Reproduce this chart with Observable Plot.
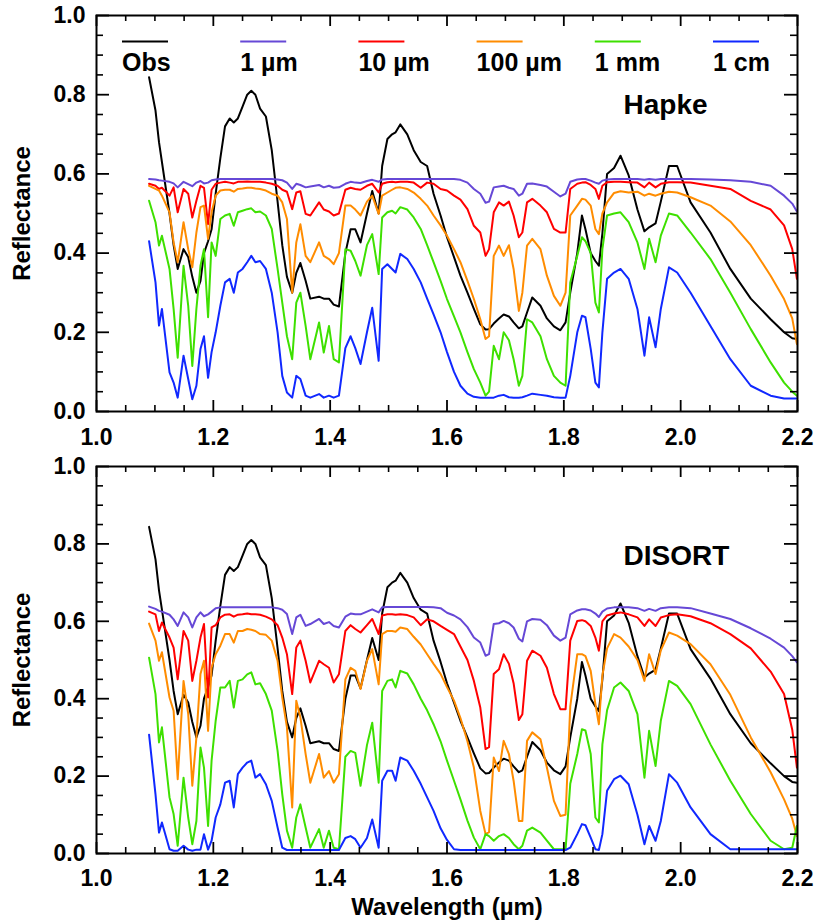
<!DOCTYPE html>
<html><head><meta charset="utf-8">
<script src="https://cdn.jsdelivr.net/npm/d3@7"></script>
<script src="https://cdn.jsdelivr.net/npm/@observablehq/plot@0.6"></script>
<style>
body{margin:0;background:#fff;}
#chart{width:817px;height:921px;}
#chart svg{display:block;}
</style></head><body><div id="chart"></div>
<script>
// ---------- data ----------
const wavelength = [
1.090,1.101,1.107,1.112,1.125,1.132,1.139,1.149,1.157,1.164,
1.171,1.178,1.184,1.191,1.197,1.204,1.212,1.220,1.228,1.235,
1.242,1.250,1.258,1.265,1.272,1.280,1.290,1.300,1.310,1.318,
1.326,1.335,1.342,1.349,1.358,1.366,1.381,1.389,1.398,1.406,
1.415,1.426,
1.435,1.443,1.452,1.463,1.472,1.483,1.489,1.498,1.506,1.512,
1.520,1.532,1.543,1.555,1.566,1.577,1.589,1.600,1.612,1.623,
1.635,1.646,1.657,1.666,1.672,1.680,1.689,1.697,1.706,1.714,
1.723,1.729,1.737,1.746,1.760,1.771,1.783,1.794,1.803,1.811,
1.823,1.831,1.837,1.846,1.854,1.860,1.866,1.874,1.886,1.897,
1.911,1.926,1.938,1.946,1.957,1.966,1.980,1.994,2.017,2.051,
2.085,2.120,2.154,2.177,2.191,2.199];

const obs = [
0.844,0.76,0.68,0.63,0.50,0.42,0.36,0.41,0.39,0.34,
0.30,0.33,0.40,0.43,0.46,0.55,0.64,0.72,0.74,0.73,
0.74,0.77,0.80,0.81,0.80,0.765,0.745,0.66,0.53,0.42,
0.34,0.30,0.35,0.375,0.33,0.285,0.29,0.285,0.285,0.27,
0.265,0.40,
0.46,0.46,0.427,0.50,0.557,0.50,0.62,0.688,0.70,0.705,
0.725,0.70,0.66,0.63,0.62,0.55,0.495,0.44,0.39,0.343,
0.30,0.259,0.22,0.207,0.208,0.222,0.235,0.245,0.24,0.225,
0.21,0.215,0.25,0.288,0.267,0.235,0.215,0.205,0.225,0.30,
0.40,0.495,0.46,0.40,0.38,0.368,0.45,0.60,0.615,0.646,
0.596,0.51,0.455,0.465,0.475,0.53,0.62,0.62,0.528,0.452,
0.36,0.285,0.233,0.20,0.185,0.183];

// Hapke models
const hapke1um = [
0.587,0.586,0.584,0.583,0.580,0.576,0.566,0.580,0.574,0.569,
0.578,0.582,0.576,0.578,0.584,0.586,0.587,0.587,0.587,0.587,
0.587,0.587,0.587,0.587,0.587,0.587,0.587,0.587,0.586,0.584,
0.578,0.562,0.575,0.572,0.566,0.568,0.572,0.566,0.570,0.565,
0.566,0.575,
0.580,0.578,0.577,0.582,0.585,0.580,0.586,0.587,0.587,0.587,
0.587,0.587,0.587,0.587,0.587,0.587,0.587,0.587,0.587,0.585,
0.578,0.562,0.550,0.527,0.530,0.566,0.568,0.570,0.565,0.562,
0.545,0.550,0.575,0.576,0.572,0.568,0.555,0.543,0.550,0.580,
0.586,0.587,0.587,0.583,0.578,0.575,0.583,0.586,0.587,0.587,
0.587,0.587,0.585,0.587,0.585,0.587,0.587,0.587,0.587,0.586,
0.584,0.580,0.570,0.545,0.525,0.505];
const hapke10um = [
0.575,0.570,0.562,0.565,0.545,0.566,0.503,0.562,0.550,0.490,
0.532,0.570,0.565,0.473,0.560,0.575,0.578,0.580,0.578,0.576,
0.580,0.580,0.581,0.580,0.580,0.580,0.578,0.575,0.570,0.560,
0.555,0.511,0.553,0.556,0.499,0.495,0.528,0.510,0.505,0.495,
0.500,0.560,
0.565,0.562,0.560,0.570,0.575,0.553,0.575,0.579,0.580,0.579,
0.580,0.580,0.578,0.565,0.578,0.575,0.562,0.558,0.545,0.535,
0.511,0.469,0.452,0.393,0.410,0.503,0.528,0.520,0.530,0.495,
0.440,0.452,0.528,0.537,0.520,0.503,0.461,0.452,0.452,0.562,
0.575,0.578,0.579,0.572,0.562,0.537,0.570,0.579,0.580,0.580,
0.579,0.578,0.566,0.578,0.566,0.575,0.579,0.579,0.578,0.570,
0.562,0.532,0.510,0.470,0.410,0.335];
const hapke100um = [
0.570,0.562,0.558,0.545,0.503,0.427,0.377,0.478,0.410,0.364,
0.452,0.516,0.520,0.436,0.503,0.545,0.558,0.560,0.560,0.555,
0.562,0.563,0.565,0.565,0.563,0.562,0.558,0.550,0.545,0.528,
0.486,0.300,0.427,0.473,0.393,0.377,0.427,0.393,0.385,0.372,
0.400,0.520,
0.520,0.510,0.495,0.530,0.545,0.499,0.545,0.553,0.560,0.565,
0.566,0.562,0.553,0.537,0.520,0.495,0.470,0.444,0.410,0.377,
0.330,0.284,0.233,0.183,0.190,0.393,0.419,0.393,0.420,0.360,
0.254,0.300,0.419,0.436,0.410,0.343,0.292,0.267,0.300,0.495,
0.520,0.537,0.535,0.520,0.461,0.448,0.500,0.528,0.552,0.556,
0.553,0.555,0.545,0.550,0.545,0.550,0.555,0.553,0.541,0.520,
0.480,0.420,0.343,0.284,0.235,0.170];
const hapke1mm = [
0.532,0.478,0.419,0.444,0.360,0.259,0.136,0.368,0.267,0.115,
0.259,0.368,0.410,0.238,0.427,0.393,0.486,0.495,0.499,0.469,
0.503,0.507,0.511,0.513,0.503,0.505,0.495,0.461,0.360,0.275,
0.190,0.132,0.275,0.300,0.216,0.132,0.225,0.149,0.216,0.132,
0.124,0.410,
0.406,0.380,0.343,0.420,0.448,0.347,0.490,0.503,0.507,0.500,
0.516,0.510,0.490,0.461,0.420,0.377,0.330,0.284,0.240,0.200,
0.150,0.107,0.073,0.040,0.050,0.166,0.132,0.200,0.180,0.132,
0.065,0.090,0.233,0.225,0.190,0.132,0.090,0.073,0.065,0.326,
0.393,0.440,0.430,0.400,0.275,0.250,0.410,0.495,0.500,0.503,
0.478,0.427,0.360,0.436,0.377,0.444,0.500,0.495,0.452,0.385,
0.300,0.208,0.124,0.073,0.050,0.040];
const hapke1cm = [
0.430,0.326,0.217,0.259,0.099,0.073,0.035,0.141,0.082,0.031,
0.065,0.158,0.190,0.085,0.150,0.200,0.267,0.326,0.335,0.300,
0.351,0.360,0.377,0.393,0.377,0.380,0.360,0.300,0.200,0.090,
0.048,0.035,0.090,0.082,0.040,0.035,0.044,0.035,0.040,0.035,
0.040,0.160,
0.190,0.160,0.120,0.200,0.262,0.128,0.360,0.372,0.360,0.351,
0.398,0.385,0.360,0.326,0.285,0.245,0.200,0.150,0.100,0.065,
0.045,0.037,0.035,0.035,0.035,0.035,0.040,0.042,0.036,0.035,
0.035,0.036,0.040,0.045,0.042,0.040,0.036,0.035,0.035,0.090,
0.200,0.242,0.238,0.158,0.073,0.061,0.200,0.335,0.351,0.360,
0.335,0.259,0.141,0.238,0.162,0.259,0.364,0.351,0.300,0.216,
0.132,0.065,0.040,0.033,0.033,0.033];

// DISORT models
const disort1um = [
0.638,0.632,0.627,0.625,0.617,0.605,0.588,0.623,0.610,0.584,
0.610,0.623,0.613,0.618,0.625,0.634,0.636,0.636,0.636,0.636,
0.636,0.636,0.636,0.636,0.636,0.636,0.636,0.636,0.634,0.630,
0.619,0.567,0.610,0.617,0.588,0.593,0.606,0.593,0.598,0.588,
0.584,0.612,
0.620,0.618,0.618,0.625,0.631,0.623,0.636,0.637,0.637,0.637,
0.637,0.637,0.637,0.637,0.637,0.636,0.634,0.622,0.615,0.605,
0.585,0.558,0.545,0.511,0.515,0.593,0.595,0.601,0.595,0.584,
0.555,0.548,0.600,0.606,0.604,0.590,0.563,0.550,0.558,0.618,
0.628,0.631,0.631,0.628,0.620,0.611,0.625,0.633,0.636,0.636,
0.636,0.634,0.627,0.632,0.627,0.634,0.636,0.636,0.634,0.620,
0.606,0.582,0.555,0.532,0.510,0.494];
const disort10um = [
0.625,0.618,0.575,0.597,0.558,0.532,0.450,0.575,0.550,0.446,
0.498,0.558,0.593,0.403,0.584,0.590,0.610,0.617,0.618,0.612,
0.617,0.618,0.620,0.618,0.618,0.617,0.612,0.605,0.590,0.558,
0.515,0.412,0.532,0.550,0.498,0.442,0.498,0.489,0.480,0.442,
0.463,0.575,
0.590,0.580,0.571,0.590,0.606,0.567,0.615,0.618,0.618,0.617,
0.618,0.616,0.610,0.590,0.605,0.600,0.588,0.578,0.567,0.535,
0.500,0.446,0.377,0.270,0.275,0.464,0.476,0.515,0.490,0.440,
0.345,0.360,0.498,0.524,0.511,0.480,0.412,0.373,0.373,0.550,
0.601,0.603,0.600,0.588,0.558,0.524,0.600,0.615,0.620,0.623,
0.618,0.610,0.588,0.605,0.588,0.610,0.616,0.618,0.613,0.595,
0.567,0.530,0.470,0.412,0.320,0.222];
const disort100um = [
0.594,0.550,0.498,0.520,0.403,0.369,0.192,0.446,0.360,0.175,
0.300,0.464,0.498,0.317,0.480,0.515,0.537,0.567,0.567,0.545,
0.575,0.575,0.580,0.578,0.575,0.567,0.565,0.550,0.498,0.403,
0.326,0.119,0.395,0.352,0.257,0.183,0.257,0.196,0.213,0.183,
0.205,0.450,
0.480,0.472,0.425,0.498,0.528,0.437,0.567,0.575,0.575,0.573,
0.584,0.580,0.560,0.540,0.515,0.490,0.464,0.430,0.395,0.350,
0.290,0.222,0.110,0.050,0.055,0.248,0.213,0.291,0.257,0.188,
0.084,0.084,0.291,0.313,0.295,0.222,0.136,0.097,0.100,0.380,
0.515,0.515,0.510,0.472,0.386,0.334,0.460,0.530,0.567,0.558,
0.535,0.500,0.446,0.515,0.464,0.525,0.571,0.563,0.541,0.489,
0.410,0.300,0.210,0.140,0.090,0.045];
const disort1mm = [
0.506,0.412,0.287,0.326,0.145,0.102,0.020,0.196,0.093,0.024,
0.084,0.274,0.222,0.071,0.240,0.343,0.429,0.429,0.446,0.377,
0.446,0.450,0.463,0.468,0.437,0.440,0.412,0.369,0.265,0.153,
0.059,0.015,0.093,0.127,0.067,0.015,0.063,0.015,0.059,0.015,
0.011,0.250,
0.265,0.260,0.175,0.280,0.338,0.183,0.420,0.446,0.450,0.429,
0.472,0.465,0.437,0.400,0.370,0.334,0.290,0.240,0.188,0.140,
0.085,0.041,0.011,0.050,0.045,0.033,0.045,0.050,0.040,0.024,
0.011,0.020,0.059,0.067,0.054,0.033,0.011,0.011,0.011,0.180,
0.257,0.321,0.318,0.257,0.093,0.080,0.282,0.370,0.429,0.442,
0.420,0.360,0.196,0.317,0.226,0.343,0.446,0.433,0.386,0.282,
0.188,0.102,0.033,0.011,0.015,0.071];
const disort1cm = [
0.307,0.153,0.054,0.080,0.011,0.007,0.007,0.020,0.010,0.007,
0.010,0.010,0.050,0.010,0.033,0.093,0.127,0.183,0.188,0.119,
0.205,0.222,0.235,0.240,0.196,0.205,0.179,0.136,0.067,0.015,
0.009,0.009,0.009,0.009,0.009,0.009,0.009,0.009,0.009,0.009,
0.009,0.040,
0.045,0.037,0.015,0.040,0.088,0.015,0.188,0.214,0.214,0.188,
0.248,0.240,0.214,0.180,0.145,0.110,0.065,0.035,0.011,0.009,
0.009,0.009,0.009,0.009,0.009,0.009,0.009,0.009,0.009,0.009,
0.009,0.009,0.009,0.009,0.009,0.009,0.009,0.009,0.009,0.015,
0.050,0.076,0.073,0.041,0.011,0.009,0.050,0.162,0.192,0.201,
0.179,0.100,0.024,0.071,0.033,0.084,0.205,0.183,0.119,0.050,
0.011,0.011,0.011,0.011,0.011,0.011];

const seriesNames = ["Obs", "1 \u00b5m", "10 \u00b5m", "100 \u00b5m", "1 mm", "1 cm"];
const seriesColors = ["#000000", "#6648d6", "#ff0000", "#ff8c00", "#3ee000", "#1028ff"];
const panelNames = ["Hapke", "DISORT"];

const xMajorTicks = [1.0, 1.2, 1.4, 1.6, 1.8, 2.0, 2.2];
const xMinorTicks = [1.05,1.1,1.15,1.25,1.3,1.35,1.45,1.5,1.55,1.65,1.7,1.75,1.85,1.9,1.95,2.05,2.1,2.15];
const yMajorTicks = [0.0, 0.2, 0.4, 0.6, 0.8, 1.0];
const yMinorTicks = [0.05,0.1,0.15,0.25,0.3,0.35,0.45,0.5,0.55,0.65,0.7,0.75,0.85,0.9,0.95];
const xTitle = "Wavelength (\u00b5m)";
const yTitle = "Reflectance";

// ---------- drawing ----------
const FONT = "'Liberation Sans', Arial, Helvetica, sans-serif";
const W = 817, ML = 96, MR = 20;

function panel(series, name, height, marginTop, marginBottom, showXTitle, tickPad) {
  const ih = height - marginTop - marginBottom, iw = W - ML - MR;
  const rows = series.flatMap((vals, i) => vals.map((v, j) => ({wl: wavelength[j], v, name: seriesNames[i]})));
  const marks = [
    Plot.line(rows, {x: "wl", y: "v", z: "name", stroke: "name", strokeWidth: 2, strokeLinejoin: "round", clip: true}),
    Plot.tickX(xMinorTicks, {x: d => d, insetTop: ih - 6, strokeWidth: 1.6}),
    Plot.tickX(xMajorTicks, {x: d => d, insetTop: ih - 11, strokeWidth: 1.8}),
    Plot.tickX(xMinorTicks, {x: d => d, insetBottom: ih - 6, strokeWidth: 1.6}),
    Plot.tickX(xMajorTicks, {x: d => d, insetBottom: ih - 11, strokeWidth: 1.8}),
    Plot.tickY(yMinorTicks, {y: d => d, insetRight: iw - 7, strokeWidth: 1.6}),
    Plot.tickY(yMajorTicks, {y: d => d, insetRight: iw - 13, strokeWidth: 1.8}),
    Plot.tickY(yMinorTicks, {y: d => d, insetLeft: iw - 7, strokeWidth: 1.6}),
    Plot.tickY(yMajorTicks, {y: d => d, insetLeft: iw - 13, strokeWidth: 1.8}),
    Plot.frame({stroke: "black", strokeWidth: 2}),
    Plot.axisX(xMajorTicks, {tickSize: 0, tickPadding: tickPad, tickFormat: d => d.toFixed(1), fontSize: 23, fontWeight: "bold", label: null}),
    Plot.axisY(yMajorTicks, {tickSize: 0, tickPadding: 11, tickFormat: d => d.toFixed(1), fontSize: 23, fontWeight: "bold", label: null}),
    Plot.text([yTitle], {frameAnchor: "left", dx: -74, rotate: -90, fontSize: 24, fontWeight: "bold", textAnchor: "middle", lineAnchor: "middle"}),
    Plot.text([name], {frameAnchor: "top-left", dx: 527, dy: 90, fontSize: 28, fontWeight: "bold", textAnchor: "start", lineAnchor: "middle"})
  ];
  if (showXTitle) marks.push(Plot.text([xTitle], {frameAnchor: "bottom", dy: 54, fontSize: 24, fontWeight: "bold", lineAnchor: "middle"}));
  return Plot.plot({
    width: W, height, marginLeft: ML, marginRight: MR, marginTop, marginBottom,
    style: {fontFamily: FONT, background: "white", overflow: "visible", color: "black"},
    x: {domain: [1.0, 2.2]},
    y: {domain: [0, 1]},
    color: {domain: seriesNames, range: seriesColors},
    marks
  });
}

const topPlot = panel([obs, hapke1um, hapke10um, hapke100um, hapke1mm, hapke1cm], panelNames[0], 455, 15, 44, false, 17);
const bottomPlot = panel([obs, disort1um, disort10um, disort100um, disort1mm, disort1cm], panelNames[1], 466, 11, 68, true, 16);
document.getElementById("chart").append(topPlot, bottomPlot);

// legend inside the top panel
const legendX0 = 122, legendStep = 118.2, legendLineY = 41.5, legendTextY = 62;
const lg = d3.select(topPlot).append("g").attr("font-family", FONT).attr("font-weight", "bold").attr("font-size", 25);
seriesNames.forEach((n, i) => {
  const x = legendX0 + i * legendStep;
  lg.append("line").attr("x1", x).attr("x2", x + 46).attr("y1", legendLineY).attr("y2", legendLineY)
    .attr("stroke", seriesColors[i]).attr("stroke-width", 2);
  lg.append("text").attr("x", x).attr("y", legendTextY).attr("dy", "0.35em").attr("text-anchor", "start").attr("fill", "black").text(n);
});
</script>
</body></html>
